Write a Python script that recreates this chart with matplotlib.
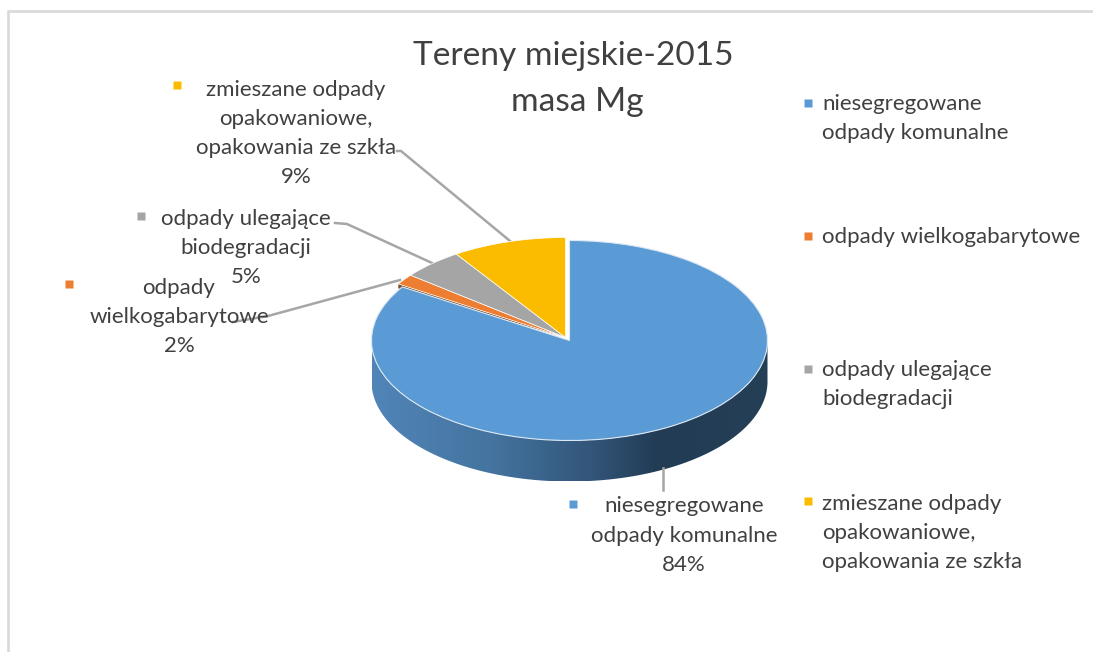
import numpy as np
import matplotlib
matplotlib.use("Agg")
import matplotlib.pyplot as plt
from matplotlib.colors import LinearSegmentedColormap
from matplotlib.patches import Polygon
from matplotlib.transforms import Affine2D

W, H = 1093, 652

title_lines = ["Tereny miejskie-2015", "masa Mg"]
categories = ["niesegregowane\nodpady komunalne",
              "odpady wielkogabarytowe",
              "odpady ulegające\nbiodegradacji",
              "zmieszane odpady\nopakowaniowe,\nopakowania ze szkła"]
data_label_text = ["niesegregowane\nodpady komunalne",
                   "odpady\nwielkogabarytowe",
                   "odpady ulegające\nbiodegradacji",
                   "zmieszane odpady\nopakowaniowe,\nopakowania ze szkła"]
values = [84.0, 1.7, 5.0, 9.3]
colors = ["#5B9BD5", "#ED7D31", "#A5A5A5", "#FBBC00"]

plt.rcParams["font.family"] = ["Lato", "DejaVu Sans"]
TXT = "#404040"
FS = 16.0
LS = 1.57

fig = plt.figure(figsize=(W / 100, H / 100), dpi=100, facecolor="white")
ax = fig.add_axes([0, 0, 1, 1])


def Y(y):
    return H - y


cx, cy, rx, ry, depth = 569.5, 340.5, 198.0, 100.0, 41.0
off = (-4.0, 3.0)

# front wall
th = np.radians(np.linspace(180, 360, 200))
top = np.c_[cx + rx * np.cos(th), Y(cy) + ry * np.sin(th)]
bot = np.c_[cx + rx * np.cos(th[::-1]), Y(cy) + ry * np.sin(th[::-1]) - depth]
wall = Polygon(np.r_[top, bot], closed=True, transform=ax.transData, fc="none", ec="none")
ax.add_patch(wall)
cmap = LinearSegmentedColormap.from_list(
    "wall", [(0.0, "#5185B8"), (0.3, "#44749F"), (0.55, "#33567A"),
             (0.72, "#223C55"), (1.0, "#243F55")])
im = ax.imshow(np.linspace(0, 1, 256)[None, :], cmap=cmap, aspect="auto",
               extent=(cx - rx, cx + rx, Y(cy) - ry - depth, Y(cy) + ry), zorder=1)
im.set_clip_path(wall)

# top faces from the data
wedges, _ = ax.pie(values, colors=colors, startangle=90, counterclock=False, radius=1.0,
                   wedgeprops=dict(linewidth=0))
ax.set_aspect("auto")
for i, w in enumerate(wedges):
    dx, dy = (0, 0) if i == 0 else off
    w.set_transform(Affine2D().scale(rx, ry).translate(cx + dx, Y(cy) + dy) + ax.transData)
    w.set_zorder(3 if i == 0 else 2.5)
    if i == 0:
        w.set_edgecolor("#DCE8F3")
        w.set_linewidth(0.8)
    else:
        w.set_edgecolor("white")
        w.set_linewidth(0.5)

# dark cut face of the exploded orange slice
ang = np.radians(90 - 360 * values[0] / sum(values))
ex, ey = cx + off[0] + rx * np.cos(ang), Y(cy) + off[1] + ry * np.sin(ang)
ax.add_patch(Polygon([(cx + off[0], Y(cy) + off[1]), (ex, ey), (ex, ey - 4.5)], closed=True,
                     fc="#7A4A2A", ec="none", zorder=2.4))

ax.set_xlim(0, W)
ax.set_ylim(0, H)
ax.axis("off")

# chart border
ax.plot([8, 8, W], [0, Y(11), Y(11)], color="#D9D9D9", lw=1.9, solid_joinstyle="miter", zorder=0)

# title
ax.text(573, Y(56), title_lines[0], ha="center", va="center", fontsize=24.1, color=TXT)
ax.text(577, Y(102), title_lines[1], ha="center", va="center", fontsize=24.1, color=TXT)

# leader lines
leaders = [[(663, 468), (663, 490)],
           [(233, 322), (268, 316), (400, 280)],
           [(335, 223), (347, 224), (432, 263)],
           [(397, 151), (401, 151), (510, 241)]]
for pts in leaders:
    xs, ys = zip(*pts)
    ax.plot(xs, [Y(v) for v in ys], color="#A6A6A6", lw=1.8, zorder=2)

# data labels
label_pos = [(684, 535.5), (179, 316.7), (246, 247.7), (296, 133.5)]
marker_pos = [(573, 504), (69, 284), (141, 216), (177, 85)]
for name, v, c, (tx, ty), (mx, my) in zip(data_label_text, values, colors, label_pos, marker_pos):
    ax.text(tx, Y(ty), f"{name}\n{round(v)}%", ha="center", va="center", ma="center", fontsize=FS,
            color=TXT, linespacing=LS, zorder=4)
    ax.plot([mx], [Y(my)], marker="s", ms=6, color=c, mec="none", ls="none", zorder=4)

# legend
legend_text_y = [118.5, 237, 384.5, 533]
legend_marker_y = [103, 236, 369, 501]
for name, c, ty, my in zip(categories, colors, legend_text_y, legend_marker_y):
    ax.plot([808], [Y(my)], marker="s", ms=6, color=c, mec="none", ls="none", zorder=4)
    ax.text(822, Y(ty), name, ha="left", va="center", fontsize=FS, color=TXT,
            linespacing=LS, zorder=4)

fig.savefig("out.png", dpi=100, facecolor="white")
